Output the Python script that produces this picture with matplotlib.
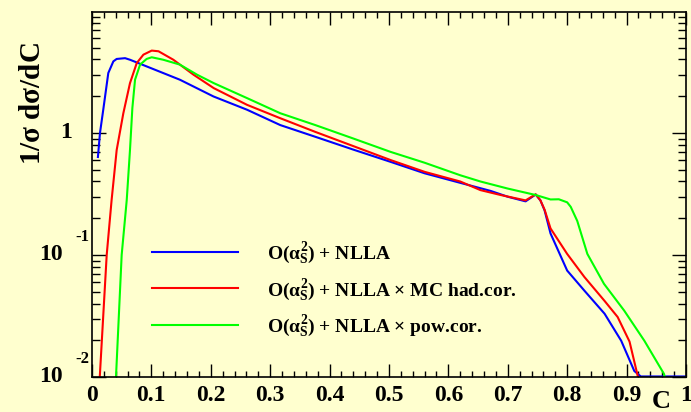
import matplotlib
matplotlib.use("Agg")
import matplotlib.pyplot as plt
import numpy as np

# values
c_nlla = [0.010, 0.0135, 0.019, 0.0275, 0.036, 0.0416, 0.0557, 0.064, 0.092, 0.148,
          0.2046, 0.261, 0.317, 0.376, 0.44, 0.5025, 0.56, 0.62, 0.671, 0.70, 0.730,
          0.747, 0.755, 0.762, 0.772, 0.80, 0.829, 0.863, 0.891, 0.913, 0.924, 0.95, 1.0]
y_nlla = [0.635, 1.0, 1.55, 3.1, 3.86, 4.04, 4.1, 3.98, 3.51, 2.73,
          1.99, 1.55, 1.16, 0.93, 0.73, 0.58, 0.467, 0.39, 0.335, 0.30, 0.275,
          0.313, 0.28, 0.232, 0.15, 0.0745, 0.051, 0.033, 0.0198, 0.0112, 0.0101, 0.0101, 0.0101]

c_had = [0.012, 0.0248, 0.033, 0.0416, 0.0528, 0.064, 0.0754, 0.0866, 0.1006, 0.112,
         0.137, 0.171, 0.205, 0.261, 0.317, 0.376, 0.44, 0.5025, 0.56, 0.62, 0.654,
         0.688, 0.730, 0.747, 0.755, 0.762, 0.772, 0.80, 0.829, 0.863, 0.885, 0.905,
         0.919, 0.922]
y_had = [0.008, 0.1, 0.28, 0.725, 1.45, 2.56, 3.74, 4.38, 4.73, 4.67,
         3.98, 3.0, 2.33, 1.7, 1.32, 1.02, 0.78, 0.60, 0.48, 0.40, 0.34,
         0.31, 0.28, 0.314, 0.28, 0.235, 0.165, 0.102, 0.066, 0.042, 0.031, 0.0195,
         0.0101, 0.008]

c_pow = [0.040, 0.050, 0.0585, 0.064, 0.068, 0.0725, 0.081, 0.092, 0.1006, 0.120,
         0.148, 0.177, 0.205, 0.261, 0.317, 0.376, 0.44, 0.5025, 0.56, 0.62, 0.654,
         0.70, 0.747, 0.772, 0.786, 0.80, 0.806, 0.817, 0.834, 0.862, 0.896, 0.930,
         0.963, 0.97]
y_pow = [0.009, 0.1, 0.281, 0.725, 1.6, 2.73, 3.63, 4.04, 4.17, 3.98,
         3.63, 3.0, 2.56, 1.93, 1.45, 1.16, 0.90, 0.70, 0.57, 0.45, 0.40,
         0.35, 0.31, 0.285, 0.286, 0.27, 0.248, 0.19, 0.102, 0.058, 0.035, 0.0198,
         0.0106, 0.008]

labels = [r"O($\alpha_{S}^{2}$) + NLLA",
          r"O($\alpha_{S}^{2}$) + NLLA $\times$ MC had.cor.",
          r"O($\alpha_{S}^{2}$) + NLLA $\times$ pow.cor."]
colors = ["#0000ff", "#ff0000", "#00ff00"]
xticks = np.arange(0, 1.01, 0.1)
xticklabels = ["0", "0.1", "0.2", "0.3", "0.4", "0.5", "0.6", "0.7", "0.8", "0.9", "1"]

plt.rcParams["font.family"] = "Liberation Serif"
plt.rcParams["font.weight"] = "bold"
plt.rcParams["axes.labelweight"] = "bold"
plt.rcParams["mathtext.fontset"] = "custom"
plt.rcParams["mathtext.rm"] = "Liberation Serif:bold"
plt.rcParams["mathtext.it"] = "Liberation Serif:bold"
plt.rcParams["mathtext.bf"] = "Liberation Serif:bold"

bg = "#ffffcf"
fig = plt.figure(figsize=(6.91, 4.12), dpi=100, facecolor=bg)
ax = fig.add_axes([0.1331, 0.0850, 0.8596, 0.8859], facecolor=bg)

for xs, ys, col, lab in zip([c_nlla, c_had, c_pow], [y_nlla, y_had, y_pow], colors, labels):
    ax.plot(xs, ys, color=col, lw=1.5, label=lab)

ax.set_yscale("log")
ax.set_xlim(0, 1)
ax.set_ylim(0.01, 9.8)

ax.set_xticks(xticks)
ax.set_xticklabels(xticklabels)
ax.xaxis.set_minor_locator(matplotlib.ticker.MultipleLocator(0.02))
ax.tick_params(axis="x", which="major", direction="in", length=9.4, width=1,
               top=True, labelsize=17, pad=6)
ax.tick_params(axis="x", which="minor", direction="in", length=4, width=1, top=True)
ax.tick_params(axis="y", which="major", direction="in", length=10, width=1,
               right=True, labelleft=False)
ax.tick_params(axis="y", which="minor", direction="in", length=5.8, width=1, right=True)
for s in ax.spines.values():
    s.set_linewidth(1.2)

# ROOT style log labels
yt = ax.get_yaxis_transform()
ax.text(-0.0337, 1.0, "1", transform=yt, ha="right", va="center", fontsize=17)
for dec, exp in [(0.1, "-1"), (0.01, "-2")]:
    ax.text(-0.0488, dec, "10", transform=yt, ha="right", va="center", fontsize=17)
    ax.text(-0.0286, dec * 1.41, exp, transform=yt, ha="left", va="center", fontsize=12)

ax.set_xlabel("C", fontsize=19, fontweight="bold")
ax.xaxis.set_label_coords(0.958, -0.066)
ax.xaxis.label.set_va("center")
ax.set_ylabel(r"1/$\sigma$ d$\sigma$/dC", fontsize=21, fontweight="bold")
ax.yaxis.set_label_coords(-0.100, 0.75)
ax.yaxis.label.set_va("center")

ax.legend(loc="upper left", bbox_to_anchor=(0.101, 0.375), frameon=False,
          fontsize=14, handlelength=4.4, handletextpad=1.5, labelspacing=0.55,
          borderpad=0, borderaxespad=0)

fig.savefig("out.png", dpi=100, facecolor=bg)
